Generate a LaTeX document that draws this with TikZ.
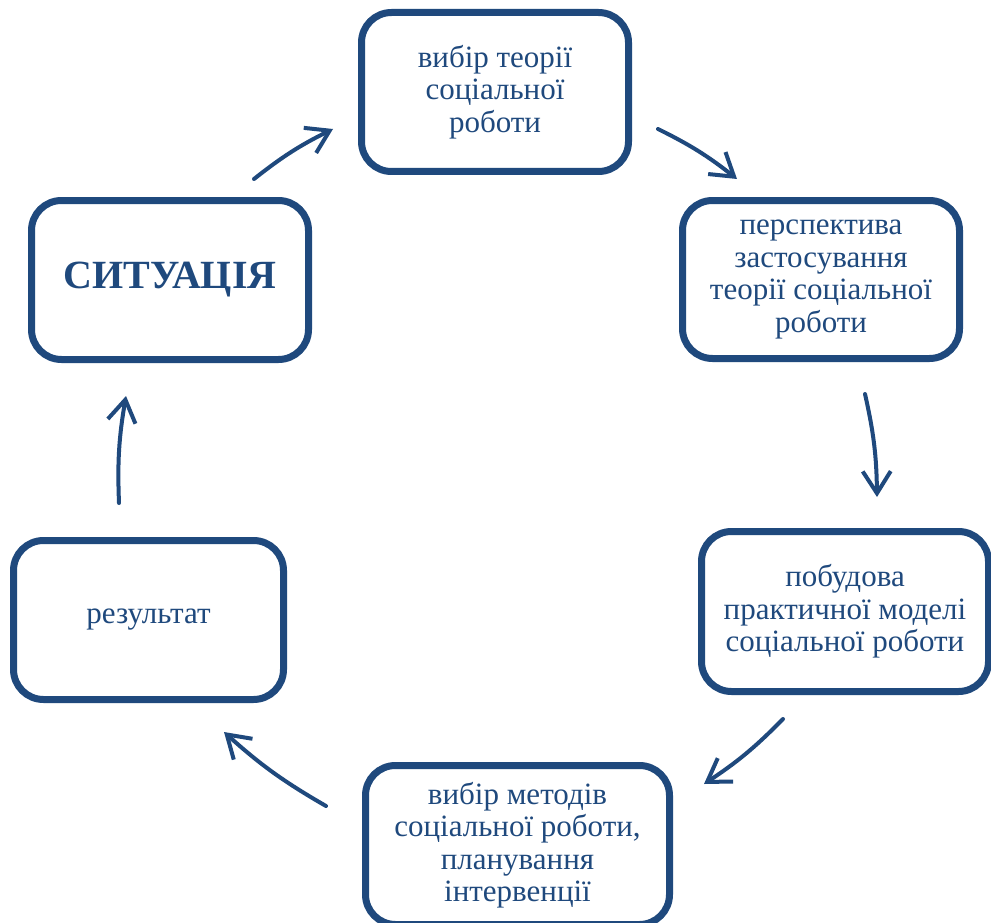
\documentclass[tikz,border=0pt]{standalone}
\usepackage{fontspec}
\setmainfont{Liberation Serif}
\usetikzlibrary{arrows.meta}
\definecolor{navy}{HTML}{1F497D}
\begin{document}
\begin{tikzpicture}[x=1pt,y=-1pt,
  box/.style={draw=navy, line width=7pt, rounded corners=30pt, text=navy,
    align=center, font=\fontsize{31}{32.5}\selectfont, inner sep=0pt},
  arr/.style={draw=navy, line width=4pt, line cap=round, line join=round,
    -{Straight Barb[length=22pt,width=28pt]}, bend left=6}]
\useasboundingbox (0,0) rectangle (991,923);
\fill[white] (0,0) rectangle (991,923);
\node[box, minimum width=267pt, minimum height=159pt] (t) at (495,92) {вибір теорії\\соціальної\\роботи};
\node[box, minimum width=277pt, minimum height=158pt] (rt) at (821,279.5) {перспектива\\застосування\\теорії соціальної\\роботи};
\node[box, minimum width=287pt, minimum height=160pt] (rb) at (845,611.5) {побудова\\практичної моделі\\соціальної роботи};
\node[box, minimum width=304pt, minimum height=159pt] (b) at (517.5,845) {вибір методів\\соціальної роботи,\\планування\\інтервенції};
\node[box, minimum width=270pt, minimum height=159pt] (lb) at (148.5,620) {результат};
\node[box, minimum width=277pt, minimum height=159pt, font=\fontsize{40}{44}\selectfont\bfseries] (s) at (170,280) {СИТУАЦІЯ};
\coordinate (a1s) at (254,179); \coordinate (a1e) at (333,129);
\coordinate (a2s) at (658,129); \coordinate (a2e) at (737,179);
\coordinate (a3s) at (865,394); \coordinate (a3e) at (877,497);
\coordinate (a4s) at (783,719); \coordinate (a4e) at (704,784);
\coordinate (a5s) at (326,806); \coordinate (a5e) at (224,732);
\coordinate (a6s) at (119,503); \coordinate (a6e) at (126,396);
\draw[arr] (a1s) to (a1e);
\draw[arr] (a2s) to (a2e);
\draw[arr] (a3s) to (a3e);
\draw[arr] (a4s) to (a4e);
\draw[arr] (a5s) to (a5e);
\draw[arr] (a6s) to (a6e);
\end{tikzpicture}
\end{document}
